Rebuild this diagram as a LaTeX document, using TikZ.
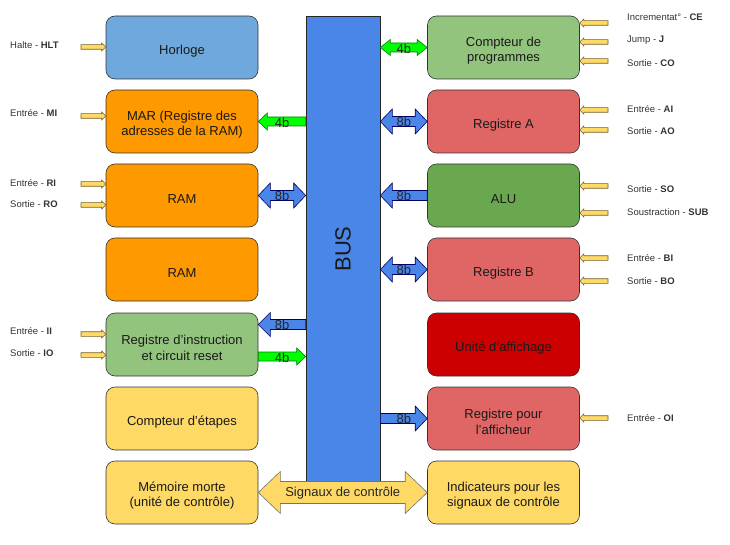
\documentclass[tikz,border=0pt]{standalone}
\usepackage{fontspec}
\setmainfont{Liberation Sans}
\usetikzlibrary{calc}
\definecolor{bleuhorloge}{HTML}{6FA8DC}
\definecolor{orangeram}{HTML}{FF9900}
\definecolor{vertclair}{HTML}{93C47D}
\definecolor{vertalu}{HTML}{6AA84F}
\definecolor{rougereg}{HTML}{E06666}
\definecolor{rougeaff}{HTML}{CC0000}
\definecolor{jaune}{HTML}{FFD966}
\definecolor{bleubus}{HTML}{4A86E8}
\definecolor{vertfleche}{HTML}{00FF00}
\newcommand{\haut}{\rule{0pt}{16pt}}
\tikzset{
  bloc/.style={draw=black!80, line width=0.6pt, rounded corners=9pt,
    minimum width=152pt, minimum height=63pt, align=center,
    font=\fontsize{13}{15.5}\selectfont, text=black!90},
  bus/.style={draw=black!85, line width=0.6pt, fill=bleubus,
    minimum width=74pt, minimum height=466pt},
  fbleue/.style={draw=black!60!blue, fill=bleubus, line width=0.6pt},
  fverte/.style={draw=black!50!green, fill=vertfleche, line width=0.6pt},
  fsignal/.style={draw=black!55, fill=jaune, line width=0.6pt},
  fctrl/.style={draw=black!55!jaune, fill=jaune, line width=0.6pt},
  etiq/.style={font=\fontsize{9.5}{11}\selectfont, text=black!80,
    anchor=west, inner sep=0pt},
  taille/.style={font=\fontsize{13}{15}\selectfont, inner sep=0pt, text=black!85}
}
% fleche simple : style, pointe, queue, demi-corps, demi-tete, longueur tete
\newcommand{\fleche}[6]{%
  \draw[#1] (#2) -- ($(#2)!#6pt!(#3)+(0,#5)$) -- ($(#2)!#6pt!(#3)+(0,#4)$)
    -- ($(#3)+(0,#4)$) -- ($(#3)+(0,-#4)$) -- ($(#2)!#6pt!(#3)+(0,-#4)$)
    -- ($(#2)!#6pt!(#3)+(0,-#5)$) -- cycle;}
% fleche double : style, pointe, pointe, demi-corps, demi-tete, longueur tete
\newcommand{\dfleche}[6]{%
  \draw[#1] (#2) -- ($(#2)!#6pt!(#3)+(0,#5)$) -- ($(#2)!#6pt!(#3)+(0,#4)$)
    -- ($(#3)!#6pt!(#2)+(0,#4)$) -- ($(#3)!#6pt!(#2)+(0,#5)$) -- (#3)
    -- ($(#3)!#6pt!(#2)+(0,-#5)$) -- ($(#3)!#6pt!(#2)+(0,-#4)$)
    -- ($(#2)!#6pt!(#3)+(0,-#4)$) -- ($(#2)!#6pt!(#3)+(0,-#5)$) -- cycle;}
\begin{document}
\begin{tikzpicture}[x=1pt,y=-1pt]
\useasboundingbox (0,0) rectangle (730,545);
% blocs de gauche
\node[bloc, fill=bleuhorloge] (horloge) at (182,47.5) {\haut Horloge};
\node[bloc, fill=orangeram] (mar) at (182,121.5) {\haut MAR (Registre des\\adresses de la RAM)};
\node[bloc, fill=orangeram] (ram) at (182,195.5) {\haut RAM};
\node[bloc, fill=orangeram] (ramb) at (182,269.5) {\haut RAM};
\node[bloc, fill=vertclair] (ri) at (182,344.5) {\haut Registre d’instruction\\et circuit reset};
\node[bloc, fill=jaune] (etapes) at (182,418.5) {\haut Compteur d’étapes};
\node[bloc, fill=jaune] (rom) at (182,492.5) {\haut Mémoire morte\\(unité de contrôle)};
% blocs de droite
\node[bloc, fill=vertclair] (pc) at (503.5,47.5) {\haut Compteur de\\programmes};
\node[bloc, fill=rougereg] (rega) at (503.5,121.5) {\haut Registre A};
\node[bloc, fill=vertalu] (alu) at (503.5,195.5) {\haut ALU};
\node[bloc, fill=rougereg] (regb) at (503.5,269.5) {\haut Registre B};
\node[bloc, fill=rougeaff] (affichage) at (503.5,344.5) {\haut Unité d’affichage};
\node[bloc, fill=rougereg] (regout) at (503.5,418.5) {\haut Registre pour\\l’afficheur};
\node[bloc, fill=jaune] (flags) at (503.5,492.5) {\haut Indicateurs pour les\\signaux de contrôle};
% bus
\node[bus] (bus) at (343,249) {};
\node[rotate=90, font=\fontsize{22}{22}\selectfont, text=black!90] (buslbl) at (bus.center) {BUS};
% liaisons avec le bus
\coordinate (bpc) at (bus.east |- pc.west);
\dfleche{fverte}{bpc}{pc.west}{4.5}{8}{10}
\node[taille] (lpc) at ($(bpc)!0.5!(pc.west)+(0,1.5)$) {4b};
\coordinate (bmar) at (bus.west |- mar.east);
\fleche{fverte}{mar.east}{bmar}{4.5}{8.5}{9}
\node[taille] (lmar) at ($(bmar)!0.5!(mar.east)+(0,1.5)$) {4b};
\coordinate (bram) at (bus.west |- ram.east);
\dfleche{fbleue}{ram.east}{bram}{5}{12.5}{12}
\node[taille] (lram) at ($(bram)!0.5!(ram.east)$) {8b};
\coordinate (brega) at (bus.east |- rega.west);
\dfleche{fbleue}{brega}{rega.west}{5}{12.5}{12}
\node[taille] (lrega) at ($(brega)!0.5!(rega.west)$) {8b};
\coordinate (balu) at (bus.east |- alu.west);
\fleche{fbleue}{balu}{alu.west}{5}{12.5}{12}
\node[taille] (lalu) at ($(balu)!0.5!(alu.west)$) {8b};
\coordinate (bregb) at (bus.east |- regb.west);
\dfleche{fbleue}{bregb}{regb.west}{5}{12.5}{12}
\node[taille] (lregb) at ($(bregb)!0.5!(regb.west)$) {8b};
\coordinate (ri1) at ($(ri.east)+(0,-20)$);
\coordinate (bri1) at (bus.west |- ri1);
\fleche{fbleue}{ri1}{bri1}{5}{12}{12}
\node[taille] (lri1) at ($(bri1)!0.5!(ri1)$) {8b};
\coordinate (ri2) at ($(ri.east)+(0,12)$);
\coordinate (bri2) at (bus.west |- ri2);
\fleche{fverte}{bri2}{ri2}{4.5}{8.5}{9}
\node[taille] (lri2) at ($(bri2)!0.5!(ri2)+(0,1.5)$) {4b};
\coordinate (bregout) at (bus.east |- regout.west);
\fleche{fbleue}{regout.west}{bregout}{5}{12.5}{12}
\node[taille] (lregout) at ($(bregout)!0.5!(regout.west)$) {8b};
% signaux de controle
\dfleche{fsignal}{rom.east}{flags.west}{11}{21}{22}
\node[taille] (lsig) at ($(rom.east)!0.5!(flags.west)+(0,1)$) {Signaux de contrôle};
% commandes a gauche
\foreach \n/\ya/\ye/\t/\b in {horloge/47/45/Halte/HLT, mar/116/113/Entrée/MI,
    ram/184/183/Entrée/RI, ram/205/204/Sortie/RO, ri/334/331/Entrée/II, ri/355/353/Sortie/IO}{
  \coordinate (q\b) at (81,\ya);
  \coordinate (p\b) at (\n.west |- q\b);
  \fleche{fctrl}{p\b}{q\b}{2.3}{4}{4}
  \node[etiq] (e\b) at (10,\ye) {\t{} - \textbf{\b}};
}
% commandes a droite
\foreach \n/\ya/\ye/\t/\b in {pc/23/17/Incrementat°/CE, pc/42/40/Jump/J, pc/61/63/Sortie/CO,
    rega/110/109/Entrée/AI, rega/130/131/Sortie/AO, alu/186/189/Sortie/SO,
    alu/213/212/Soustraction/SUB, regb/258/258/Entrée/BI, regb/281/281/Sortie/BO,
    regout/418/418/Entrée/OI}{
  \coordinate (q\b) at (608,\ya);
  \coordinate (p\b) at (\n.east |- q\b);
  \fleche{fctrl}{p\b}{q\b}{2.3}{4}{4}
  \node[etiq] (e\b) at (627,\ye) {\t{} - \textbf{\b}};
}
\end{tikzpicture}
\end{document}
